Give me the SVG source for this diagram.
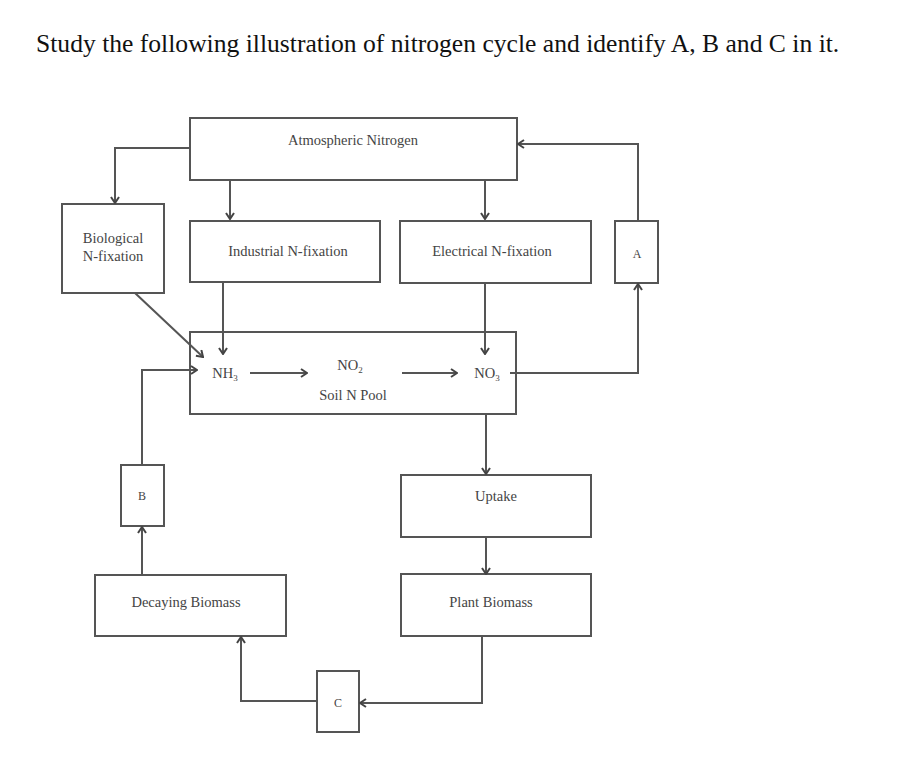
<svg xmlns="http://www.w3.org/2000/svg" width="901" height="771" viewBox="0 0 901 771">
<defs>
<style>
.box{fill:#fff;stroke:#555;stroke-width:2}
.ln{fill:none;stroke:#555;stroke-width:2;marker-end:url(#ah)}
.t{font-family:"Liberation Serif","Times New Roman",serif;font-size:14.5px;fill:#444;text-anchor:middle}
.s{font-size:9px}
</style>
<marker id="ah" viewBox="0 0 10 10" refX="9" refY="5" markerWidth="10" markerHeight="10" markerUnits="userSpaceOnUse" orient="auto">
<path d="M3,1 L9,5 L3,9" fill="none" stroke="#444" stroke-width="2"/>
</marker>
</defs>
<rect width="901" height="771" fill="#fff"/>
<text x="36" y="52" font-family="'Liberation Serif','Times New Roman',serif" font-size="25.6" fill="#111">Study the following illustration of nitrogen cycle and identify A, B and C in it.</text>

<g id="atmospheric">
<rect class="box" x="190" y="118" width="327" height="62"/>
<text class="t" x="353" y="145">Atmospheric Nitrogen</text>
</g>
<g id="biological">
<rect class="box" x="62" y="204" width="102" height="89"/>
<text class="t" x="113" y="243">Biological</text>
<text class="t" x="113" y="261">N-fixation</text>
</g>
<g id="industrial">
<rect class="box" x="190" y="221" width="190" height="61"/>
<text class="t" x="288" y="256">Industrial N-fixation</text>
</g>
<g id="electrical">
<rect class="box" x="400" y="221" width="191" height="62"/>
<text class="t" x="492" y="256">Electrical N-fixation</text>
</g>
<g id="A">
<rect class="box" x="615" y="221" width="43" height="62"/>
<text class="t" x="637" y="258" style="font-size:12px">A</text>
</g>
<g id="soil">
<rect class="box" x="190" y="332" width="326" height="82"/>
<text class="t" x="225" y="378">NH<tspan class="s" dy="3">3</tspan></text>
<text class="t" x="350" y="370">NO<tspan class="s" dy="3">2</tspan></text>
<text class="t" x="353" y="400">Soil N Pool</text>
<text class="t" x="487" y="378">NO<tspan class="s" dy="3">3</tspan></text>
</g>
<g id="B">
<rect class="box" x="121" y="465" width="43" height="61"/>
<text class="t" x="142" y="500" style="font-size:12px">B</text>
</g>
<g id="uptake">
<rect class="box" x="401" y="475" width="190" height="62"/>
<text class="t" x="496" y="501">Uptake</text>
</g>
<g id="decaying">
<rect class="box" x="95" y="575" width="191" height="61"/>
<text class="t" x="186" y="607">Decaying Biomass</text>
</g>
<g id="plant">
<rect class="box" x="401" y="574" width="190" height="62"/>
<text class="t" x="491" y="607">Plant Biomass</text>
</g>
<g id="C">
<rect class="box" x="317" y="671" width="42" height="61"/>
<text class="t" x="338" y="707" style="font-size:12px">C</text>
</g>

<g id="connectors">
<path class="ln" d="M190,148 H115 V203"/>
<path class="ln" d="M230,180 V219"/>
<path class="ln" d="M485,180 V219"/>
<path class="ln" d="M638,221 V144 H518"/>
<path class="ln" d="M223,282 V354"/>
<path class="ln" d="M485,283 V354"/>
<path class="ln" d="M135,293 L203,357"/>
<path class="ln" d="M250,373 H307"/>
<path class="ln" d="M402,373 H457"/>
<path class="ln" d="M510,373 H638 V284"/>
<path class="ln" d="M142,465 V370 H197"/>
<path class="ln" d="M142,575 V527"/>
<path class="ln" d="M486,414 V474"/>
<path class="ln" d="M486,537 V574"/>
<path class="ln" d="M482,636 V703 H360"/>
<path class="ln" d="M317,701 H241 V637"/>
</g>
</svg>
